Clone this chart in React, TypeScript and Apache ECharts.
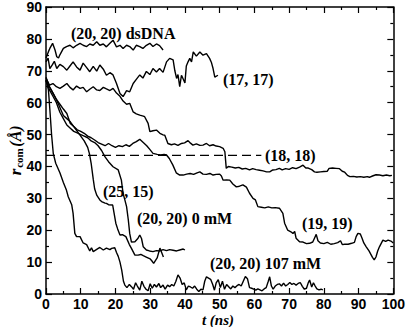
import React, { useEffect, useRef } from "react";
import * as echarts from "echarts";

// ---- data (x in ns, y in Å) ----
const dsDNA: number[][] = [[0,74],[0.7,76],[1.1,77],[1.9,78.6],[2.6,76.5],[3.1,74.4],[3.6,74],[4,75],[5,77],[5.9,77.6],[6.9,78],[7.8,77.2],[8.8,78],[9.8,78.6],[10.7,78],[11.7,77.6],[12.6,78.4],[13.6,78],[14.6,79.1],[15.5,78],[16.5,78.4],[17.4,77.5],[18.4,78.6],[19.3,79.6],[20.3,77.5],[21.3,78],[22.2,77],[23.2,78],[24.1,77.6],[25.1,76.5],[26,78],[27,77.6],[27.9,77],[28.9,78],[29.9,78.6],[30.8,77.6],[31.8,78.4],[32.7,77.9],[33.7,76.5]];

const s1717: number[][] = [[0,72.8],[0.6,74],[1.1,70.7],[1.9,72],[2.4,73],[3.1,70.7],[4,72],[5,71.3],[6,70.2],[6.9,71.5],[7.8,72.8],[8.8,71.2],[9.8,70.2],[10.7,72.4],[11.7,71],[12.6,69.7],[13.6,71.4],[14.6,69.9],[15.5,71.8],[16.5,70.5],[17.4,68.6],[18.4,69.4],[19.3,68.7],[20.3,66],[21.3,62.9],[22.2,61.9],[23.2,63.8],[24.1,63.4],[25.1,66],[26,67.3],[27,68.7],[27.9,67.7],[28.9,69.8],[29.9,68.8],[30.8,70.7],[31.8,69.6],[32.7,70.7],[33.7,69.5],[34.7,72.8],[35.6,73.9],[36.6,73.4],[37.1,70],[37.6,67.6],[38,68.8],[38.5,65],[39,68.6],[39.5,67.4],[40,66.2],[40.4,71.5],[40.9,72.8],[41.4,73.9],[41.9,72.8],[42.4,75.9],[43.3,74.6],[44.3,75.9],[45.2,74.9],[46.2,75.4],[47.1,73.9],[47.6,72.7],[48.1,70.7],[48.6,68],[49.5,68.6]];

const s1818: number[][] = [[0,67.6],[1,65.5],[2,66],[3,65],[4,64.5],[5,65.2],[6,66],[6.9,64.8],[7.8,64],[8.8,65.2],[9.8,64.5],[10.7,64.8],[11.7,63.4],[12.6,64.2],[13.6,65],[14.6,64],[15.5,63.8],[16.5,64.8],[17.4,64.3],[18.4,63.8],[19.3,64.5],[20.3,63],[21.3,62],[22.2,60.5],[23.2,59.5],[24.1,59.8],[25.1,57.1],[26,56.5],[27,56.1],[28,55.8],[28.4,55.6],[29.4,53.5],[29.9,50.9],[30.8,51.2],[31.8,51.4],[32.8,50.4],[33.7,49.9],[34.2,49.8],[35.1,47.2],[36.1,46.8],[37,47.1],[38,46.6],[39,47.2],[39.9,47.4],[40.9,48.1],[41.6,47.3],[42.3,46.7],[43.3,47.1],[44.3,46.6],[45.2,46.7],[46.2,47.2],[47.1,46.5],[48.1,46.8],[49,46.4],[50,46.2],[51,45.7],[51.5,44.6],[51.9,39.4],[52.5,40],[53.5,39.8],[54.5,39.5],[55.5,39.7],[56.5,39.2],[57.5,39.4],[58.6,38.9],[59.5,39.3],[60.5,39],[61.5,38.8],[62.5,38.6],[63.5,38.3],[64.4,38.3],[65.3,38.9],[66.2,39],[67.2,39.4],[68,38.9],[69,39.3],[70,39.1],[71,39.6],[72,39.3],[73,39.8],[74,40.4],[74.8,39.5],[75.5,39.5],[76.5,39],[77.3,38.3],[78,38.2],[79,38.3],[80,38.4],[81,38.5],[81.5,39.4],[82.5,39.5],[83.5,39.4],[84.5,39.3],[85.3,38.5],[86,38.2],[86.8,37.2],[87.5,36.8],[88.5,36.9],[89.5,36.7],[90.5,36.8],[91.5,36.6],[92.5,36.8],[93.1,36.6],[94,37],[95,37.4],[96,37.3],[97,37.1],[98,37.3],[99,37.1],[99.6,37.2]];

const s1919: number[][] = [[0,68],[1,65],[2,63],[3,61],[4,59.5],[5,58],[6,56.6],[7,53.5],[8,52.5],[9,51.5],[10,51],[11,50.4],[12,49.5],[13,49],[14,48.3],[15,47.5],[16,47],[17,46.5],[18,47.2],[19,46.5],[20,46],[21,46.5],[22,46.2],[23,46.8],[24,46.3],[25,47.2],[26,47.8],[27,48.5],[28,47.5],[29,46.5],[30,45.2],[30.8,44.1],[32,43.8],[33,43.6],[34,43.8],[34.7,43.6],[35.5,42.5],[36.5,40.5],[37.5,38],[38.5,37.3],[39.5,37.3],[40.5,37.6],[41.5,37.8],[42.5,37.5],[43.5,38],[44.3,38.3],[45.2,37.6],[46.2,37.5],[47.2,37.8],[48.1,37.3],[49,37.5],[50,37.6],[50.5,37],[51,35.7],[52,35.8],[52.9,35.7],[53.8,34.5],[54.8,33.6],[55.7,33.8],[56.7,34.2],[57.7,33.5],[58.6,31.6],[59.6,30],[60.3,29.5],[61,27.4],[62,27.2],[63,27],[64,27.3],[65,27],[66,27.1],[67.2,26.9],[68.2,25.3],[68.7,22.2],[69.6,20],[70.5,19.5],[71.1,19],[71.6,19.6],[72,17.5],[73,16.4],[74,16.3],[75,15.8],[75.9,15.9],[76.8,16.3],[77.3,17.5],[77.8,18.7],[78.3,16.7],[79,16],[80,15.8],[81,16.2],[82,15.6],[83,15.8],[84,16.1],[84.8,16.7],[85.3,15.5],[86,15.6],[87,15.6],[88,15.9],[88.8,16.2],[89.3,18],[89.8,19],[90.5,18.8],[91,17.5],[91.5,16],[92.2,14.8],[93,13.5],[94,11.5],[94.5,10.7],[95,11.6],[95.5,13.5],[96,14.8],[97,16.9],[97.8,16.5],[98.5,16.9],[99.3,16.6],[100,16]];

const s2515: number[][] = [[0,67],[1,65],[2,63],[3,61],[4,58.5],[5,56],[6,55],[7,54],[8,52.5],[9,51],[10,49.5],[11,48],[12,46],[12.5,44],[13,41],[13.6,36],[14,33],[14.6,31],[15.5,29.5],[16,29],[17,28.5],[17.4,28.4],[18,28],[19.2,27.9],[20.1,22.2],[20.6,20.5],[21.3,18.5],[22,18.6],[23,18],[24,15.5],[24.6,14.3],[25.6,12.2],[26.5,12.2],[27.3,12.4],[28,12],[29,11.5],[30,11],[30.4,10.5],[31,9.6],[32,11.3],[32.8,14.4],[33.3,13],[33.8,11.6]];

const s0mM: number[][] = [[0,67],[1,64],[2,62],[3,60],[4,57],[5,55],[6,53],[7,52],[8,51],[9,50.5],[10,50],[11,49.5],[12,49],[13,48],[14,47.5],[15,46.5],[16,45],[17,43],[18,41.5],[19.3,39.9],[20.8,38.9],[21.7,35.7],[22.2,31.5],[22.7,29.5],[23.2,27.4],[23.7,23.2],[24.1,19],[24.6,16.3],[25.6,16.4],[26.5,17.5],[27,18.5],[27.5,17.4],[28,14.8],[28.9,13.8],[29.8,13.5],[30.8,13.3],[31.8,13.6],[32.8,13.5],[33.7,13.9],[34.7,13.6],[35.6,13.9],[36.6,13.7],[37.6,13.5],[38.5,13.8],[39.5,14.1],[40,13.8]];

const s107mM: number[][] = [[0,67],[0.7,64],[1.1,58],[1.6,50],[2.1,44],[2.8,41],[4,38],[5,35],[5.9,32.5],[6.4,30.5],[7.4,28],[7.8,25.3],[8.3,19],[8.8,18],[9.8,18],[10.7,16],[11.7,15.5],[12.6,13.5],[13.1,14.5],[13.6,13.3],[14.6,14],[15.5,14.6],[16.5,13.8],[17.4,14.4],[18.4,13.9],[18.9,14.3],[19.8,14.5],[20.3,13],[20.8,11.8],[21.3,10],[21.8,7.5],[22.3,4],[22.7,2.8],[23.3,2],[24,3],[24.6,2.3],[25.2,1.5],[25.8,3.5],[26.3,2.5],[27,1.2],[27.6,4],[28.2,2.4],[28.8,1.5],[29.4,1],[30,3.2],[30.6,1.8],[31.2,3],[31.8,2.2],[32.5,3.3],[33,2],[33.7,2.8],[34.3,1.5],[35,2.8],[35.6,2.3],[36.2,3],[36.8,2.5],[37.4,4],[38,6],[38.6,5],[39.2,3],[39.8,3.5],[40.4,1.3],[41,2.5],[41.6,2.2],[42.2,1.8],[42.8,2.5],[43.4,1.5],[44,0.8],[44.6,1.5],[45.2,1.3],[45.7,4],[46.2,5.4],[46.8,5],[47.4,4.6],[48,3],[48.5,1.2],[49,3.5],[49.6,4.5],[50.2,2],[50.8,4],[51.4,1.5],[52,3],[52.6,2.3],[53.2,1.6],[53.8,2.5],[54.4,2],[55,2.6],[55.6,3],[56.2,2.5],[56.8,4],[57.4,5.5],[58,4.8],[58.6,2],[59.2,1.8],[59.8,1.5],[60.4,1.2],[61,1.6],[61.6,1.3],[62.2,1],[62.8,1.6],[63.4,2],[64,4],[64.4,5.4],[64.9,2.5],[65.4,1.5],[66,2.5],[66.6,3],[67.2,3.2],[67.8,2.5],[68.4,3.4],[69,2.5],[69.6,3],[70.2,3.6],[70.8,3],[71.4,3.3],[72,2.8],[72.6,3.3],[73.2,3.6],[73.8,2.4],[74.4,1.5],[75,1.8],[75.5,3.5],[75.9,4.4],[76.5,2.2],[77,3.5],[77.5,2.5],[78,1.6],[78.6,1.3],[79.2,1.5],[79.7,1.3]];

const dashedRef: number[][] = [[0,43.5],[62,43.5]];

const xTicks = { min: 0, max: 100, interval: 10 };
const yTicks = { min: 0, max: 90, interval: 10 };

const labels: { text: string; x: number; y: number }[] = [
  { text: "(20, 20) dsDNA", x: 71, y: 33 },
  { text: "(17, 17)", x: 223, y: 79 },
  { text: "(18, 18)", x: 265, y: 155 },
  { text: "(25, 15)", x: 103, y: 191 },
  { text: "(20, 20) 0 mM", x: 137, y: 218 },
  { text: "(19, 19)", x: 302, y: 223 },
  { text: "(20, 20) 107 mM", x: 210, y: 263 },
];

export default function App() {
  const ref = useRef<HTMLDivElement>(null);
  useEffect(() => {
    document.body.style.margin = "0";
    const chart = echarts.init(ref.current!, null, { renderer: "svg" });
    const axisCommon = {
      type: "value" as const,
      axisLine: { show: true, onZero: false, lineStyle: { color: "#000", width: 1.5 } },
      axisTick: { show: true, inside: true, length: 6, lineStyle: { color: "#000", width: 1.2 } },
      minorTick: { show: true, splitNumber: 2, length: 3, lineStyle: { color: "#000", width: 1.2 } },
      splitLine: { show: false },
    };
    const tickLabel = {
      color: "#000",
      fontFamily: "Liberation Sans, Arial, sans-serif",
      fontWeight: "bold" as const,
      fontSize: 14,
    };
    const lineSeries = (name: string, data: number[][]) => ({
      name,
      type: "line" as const,
      data,
      symbol: "none",
      showSymbol: false,
      lineStyle: { color: "#000", width: 1.4 },
      z: 3,
    });
    const serif = "Liberation Serif, Times New Roman, serif";
    chart.setOption({
      animation: false,
      backgroundColor: "#fff",
      grid: { left: 46, right: 14, top: 7, bottom: 33, containLabel: false },
      xAxis: [
        { ...axisCommon, ...xTicks, position: "bottom", axisLabel: { ...tickLabel, margin: 3 } },
        { ...axisCommon, ...xTicks, position: "top", axisLabel: { show: false } },
      ],
      yAxis: [
        { ...axisCommon, ...yTicks, position: "left", axisLabel: { ...tickLabel, margin: 4 } },
        { ...axisCommon, ...yTicks, position: "right", axisLabel: { show: false } },
      ],
      series: [
        lineSeries("(20, 20) dsDNA", dsDNA),
        lineSeries("(17, 17)", s1717),
        lineSeries("(18, 18)", s1818),
        lineSeries("(19, 19)", s1919),
        lineSeries("(25, 15)", s2515),
        lineSeries("(20, 20) 0 mM", s0mM),
        lineSeries("(20, 20) 107 mM", s107mM),
        {
          name: "reference",
          type: "line",
          data: dashedRef,
          symbol: "none",
          lineStyle: { color: "#000", width: 1.3, type: [9, 5] },
        },
      ],
      graphic: [
        ...labels.map((l) => ({
          type: "text",
          x: l.x,
          y: l.y,
          style: {
            text: l.text,
            fill: "#000",
            font: `bold 16px ${serif}`,
            textAlign: "left",
            textVerticalAlign: "middle",
          },
          z: 10,
        })),
        {
          type: "text", x: 15, y: 172, rotation: Math.PI / 2,
          style: { text: "r", fill: "#000", font: `italic bold 17px ${serif}`, textAlign: "center", textVerticalAlign: "middle" },
        },
        {
          type: "text", x: 19, y: 158, rotation: Math.PI / 2,
          style: { text: "com", fill: "#000", font: `bold 11px ${serif}`, textAlign: "center", textVerticalAlign: "middle" },
        },
        {
          type: "text", x: 15, y: 136, rotation: Math.PI / 2,
          style: { text: "(Å)", fill: "#000", font: `italic bold 16px ${serif}`, textAlign: "center", textVerticalAlign: "middle" },
        },
        {
          type: "text", x: 218, y: 320,
          style: { text: "t (ns)", fill: "#000", font: `italic bold 15px ${serif}`, textAlign: "center", textVerticalAlign: "middle" },
        },
      ],
    });
    return () => chart.dispose();
  }, []);
  return <div ref={ref} style={{ width: 408, height: 327 }} />;
}
